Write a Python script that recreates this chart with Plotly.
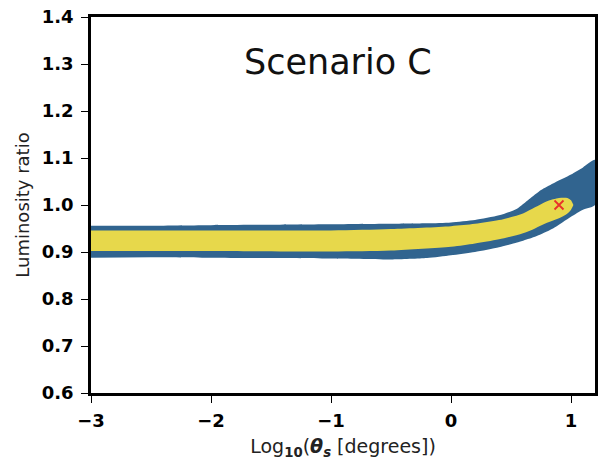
import plotly.graph_objects as go

# Outer (blue) contour band
blue_x = [-3, -2.5, -2, -1.5, -1, -0.5, -0.2, 0, 0.2, 0.4, 0.55, 0.65, 0.75, 0.85, 1.0, 1.1, 1.2]
blue_upper = [0.956, 0.956, 0.957, 0.958, 0.959, 0.960, 0.961, 0.963, 0.968, 0.978, 0.992, 1.012, 1.032, 1.046, 1.065, 1.080, 1.096]
blue_lower = [0.888, 0.889, 0.888, 0.887, 0.886, 0.884, 0.887, 0.893, 0.900, 0.910, 0.920, 0.928, 0.938, 0.950, 0.975, 0.990, 1.000]

# Inner (yellow) contour band
yellow_x = [-3, -2, -1, -0.5, 0, 0.2, 0.4, 0.6, 0.7, 0.8, 0.9, 0.97, 1.0, 1.02]
yellow_upper = [0.946, 0.946, 0.946, 0.949, 0.955, 0.960, 0.968, 0.982, 0.995, 1.008, 1.015, 1.015, 1.010, 1.000]
yellow_lower = [0.902, 0.902, 0.901, 0.903, 0.911, 0.918, 0.927, 0.940, 0.950, 0.962, 0.972, 0.982, 0.990, 1.000]

# Best-fit marker
best_x = [0.9]
best_y = [1.0]

x_ticks = [-3, -2, -1, 0, 1]
y_ticks = [0.6, 0.7, 0.8, 0.9, 1.0, 1.1, 1.2, 1.3, 1.4]

BLUE = "#31648f"
YELLOW = "#e7d84b"

fig = go.Figure()
fig.add_trace(go.Scatter(
    x=blue_x + blue_x[::-1], y=blue_upper + blue_lower[::-1],
    fill="toself", fillcolor=BLUE, mode="lines",
    line=dict(color=BLUE, width=0, shape="spline", smoothing=0.6),
    hoverinfo="skip", showlegend=False))
fig.add_trace(go.Scatter(
    x=yellow_x + yellow_x[::-1], y=yellow_upper + yellow_lower[::-1],
    fill="toself", fillcolor=YELLOW, mode="lines",
    line=dict(color=YELLOW, width=0, shape="spline", smoothing=0.8),
    hoverinfo="skip", showlegend=False))
fig.add_trace(go.Scatter(
    x=best_x, y=best_y, mode="markers",
    marker=dict(symbol="x-thin", size=9, line=dict(color="#e8302a", width=1.8)),
    showlegend=False))

tickfont = dict(family="DejaVu Sans", size=18, color="black", weight="bold")
fig.update_layout(
    width=604, height=462,
    margin=dict(l=91, r=6, t=17, b=69),
    paper_bgcolor="white", plot_bgcolor="white",
    annotations=[dict(text="Scenario C", x=0.491, y=0.879, xref="paper", yref="paper",
                      showarrow=False, font=dict(family="DejaVu Sans", size=35, color="#111"),
                      xanchor="center", yanchor="middle")],
)
fig.update_xaxes(
    range=[-3, 1.2], tickvals=x_ticks, ticks="outside", ticklen=7, tickwidth=1,
    tickcolor="black", tickfont=tickfont, ticklabelstandoff=3,
    showgrid=False, zeroline=False,
    showline=True, linecolor="black", linewidth=2.5, mirror=True,
    title=dict(text="Log<sub><b>10</b></sub>(<b><i>θ<sub>s</sub></i></b> [degrees])",
               font=dict(family="DejaVu Sans", size=19, color="#222"), standoff=10),
)
fig.update_yaxes(
    range=[0.6, 1.4], tickvals=y_ticks, tickformat=".1f", ticks="outside", ticklen=7,
    tickwidth=1, tickcolor="black", tickfont=tickfont, ticklabelstandoff=4,
    showgrid=False, zeroline=False,
    showline=True, linecolor="black", linewidth=2.5, mirror=True,
    title=dict(text="Luminosity ratio", font=dict(family="DejaVu Sans", size=18, color="#222"),
               standoff=8),
)
fig.write_html("out.html")
